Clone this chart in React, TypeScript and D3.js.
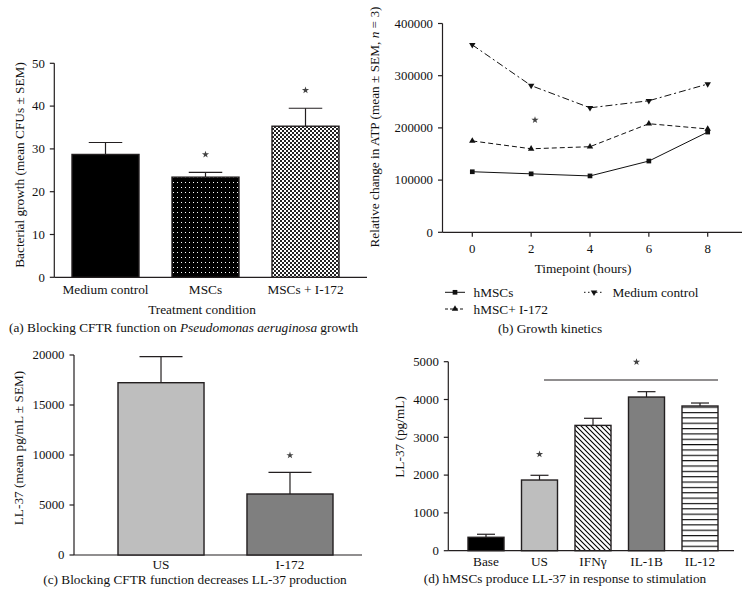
import React from "react";
import * as d3 from "d3";

// ---------- Panel (a) ----------
const aCats = ["Medium control", "MSCs", "MSCs + I-172"];
const aMeans = [28.7, 23.4, 35.3];
const aErrs = [31.5, 24.5, 39.5];
const aStars = [false, true, true];
const aTicks = [0, 10, 20, 30, 40, 50];

// ---------- Panel (b) ----------
const bTimes = [0, 2, 4, 6, 8];
const bHMSC = [116000, 112000, 108000, 136500, 192000];
const bHMSCI172 = [175000, 160000, 164000, 208000, 198000];
const bMedium = [359000, 281000, 238500, 252000, 284000];
const bYTicks = [0, 100000, 200000, 300000, 400000];

// ---------- Panel (c) ----------
const cCats = ["US", "I-172"];
const cMeans = [17230, 6100];
const cErrs = [19830, 8270];
const cYTicks = [0, 5000, 10000, 15000, 20000];

// ---------- Panel (d) ----------
const dCats = ["Base", "US", "IFNγ", "IL-1B", "IL-12"];
const dMeans = [355, 1870, 3315, 4065, 3828];
const dErrs = [435, 1995, 3503, 4207, 3907];
const dYTicks = [0, 1000, 2000, 3000, 4000, 5000];

const FONT = "'Liberation Serif', 'DejaVu Serif', serif";
const AX = "#231f20";
const FS = 13.3;
const TFS = 12.8;

function Star({ x, y }: { x: number; y: number }) {
  const p = d3.symbol().type(d3.symbolStar).size(16)();
  return <path d={p || ""} transform={`translate(${x},${y})`} fill="#444" />;
}

function YAxis({ scale, ticks, x }: { scale: any; ticks: number[]; x: number }) {
  const [r0, r1] = scale.range();
  return (
    <g>
      <line x1={x} x2={x} y1={r0} y2={r1} stroke={AX} strokeWidth={1.2} />
      {ticks.map((t) => (
        <g key={t}>
          <line x1={x - 4.5} x2={x} y1={scale(t)} y2={scale(t)} stroke={AX} strokeWidth={1.2} />
          <text x={x - 9.5} y={scale(t)} dy="0.34em" textAnchor="end" fontSize={TFS} fontFamily={FONT} fill="#111">
            {String(t)}
          </text>
        </g>
      ))}
    </g>
  );
}

function Bars({
  cats, means, errs, x, y, fills,
}: { cats: string[]; means: number[]; errs: number[]; x: any; y: any; fills: string[] }) {
  const bw = x.bandwidth();
  return (
    <g>
      {cats.map((c, i) => {
        const cx = x(c) + bw / 2;
        return (
          <g key={c}>
            <line x1={cx} x2={cx} y1={y(means[i])} y2={y(errs[i])} stroke={AX} strokeWidth={1.2} />
            <line x1={cx - bw / 4} x2={cx + bw / 4} y1={y(errs[i])} y2={y(errs[i])} stroke={AX} strokeWidth={1.2} />
            <rect x={x(c)} y={y(means[i])} width={bw} height={y(0) - y(means[i])} fill={fills[i]} stroke={AX} strokeWidth={1.4} />
          </g>
        );
      })}
    </g>
  );
}

export default function App() {
  // (a)
  const ax = d3.scaleBand<string>().domain(aCats).range([55.5, 355.5]).paddingInner(0.33).paddingOuter(0.165);
  const ay = d3.scaleLinear().domain([0, 50]).range([277.3, 63.3]);
  // (b)
  const bx = d3.scaleLinear().domain([0, 8]).range([472.3, 707.7]);
  const bAxisX0 = 442.5;
  const bAxisX1 = 742;
  const by = d3.scaleLinear().domain([0, 400000]).range([232.3, 23.5]);
  // (c)
  const cx = d3.scaleBand<string>().domain(cCats).range([96.5, 354.5]).paddingInner(0.333).paddingOuter(0.1667);
  const cy = d3.scaleLinear().domain([0, 20000]).range([555, 355]);
  // (d)
  const dx = d3.scaleBand<string>().domain(dCats).range([459.25, 726.75]).paddingInner(0.327).paddingOuter(0.1635);
  const dy = d3.scaleLinear().domain([0, 5000]).range([550.7, 361.7]);

  const line = (vals: number[]) =>
    d3.line<number>().x((_, i) => bx(bTimes[i])).y((v) => by(v))(vals) || "";

  const sq = d3.symbol().type(d3.symbolSquare).size(22)() || "";
  const tri = d3.symbol().type(d3.symbolTriangle).size(18)() || "";

  const series = [
    { name: "hMSCs", vals: bHMSC, dash: "none", legDash: "none", mark: sq, rot: 0 },
    { name: "hMSC+ I-172", vals: bHMSCI172, dash: "5,3", legDash: "3,2", mark: tri, rot: 0 },
    { name: "Medium control", vals: bMedium, dash: "7,3,2,3", legDash: "1.5,2.5", mark: tri, rot: 180 },
  ];

  const aFills = ["#000", "url(#dots)", "url(#checker)"];
  const cFills = ["#bebebe", "#7f7f7f"];
  const dFills = ["#000", "#bebebe", "url(#diag)", "#7f7f7f", "url(#hlines)"];

  return (
    <svg width={746} height={602} style={{ position: "absolute", left: 0, top: 0, background: "#fff" }} fontFamily={FONT}>
      <defs>
        <pattern id="dots" patternUnits="userSpaceOnUse" width={4} height={5}>
          <rect width={4} height={5} fill="#000" />
          <rect x={1} y={2} width={1} height={1} fill="#fff" />
        </pattern>
        <pattern id="checker" patternUnits="userSpaceOnUse" width={4} height={4}>
          <rect width={4} height={4} fill="#fff" />
          <rect x={0} y={0} width={2} height={2} fill="#222" />
          <rect x={2} y={2} width={2} height={2} fill="#222" />
        </pattern>
        <pattern id="diag" patternUnits="userSpaceOnUse" width={5} height={5}>
          <rect width={5} height={5} fill="#fff" />
          <path d="M-1,-1 L6,6 M-1,4 L1,6 M4,-1 L6,1" stroke="#000" strokeWidth={1.1} />
        </pattern>
        <pattern id="hlines" patternUnits="userSpaceOnUse" width={10} height={5.35}>
          <rect width={10} height={5.35} fill="#fff" />
          <line x1={0} x2={10} y1={0.6} y2={0.6} stroke="#000" strokeWidth={1.1} />
        </pattern>
      </defs>

      {/* ---------- Panel (a) ---------- */}
      <YAxis scale={ay} ticks={aTicks} x={54.3} />
      <line x1={54.3} x2={367} y1={ay(0)} y2={ay(0)} stroke={AX} strokeWidth={1.2} />
      <Bars cats={aCats} means={aMeans} errs={aErrs} x={ax} y={ay} fills={aFills} />
      {aCats.map((c, i) => (
        <g key={c}>
          <text x={ax(c)! + ax.bandwidth() / 2} y={294} textAnchor="middle" fontSize={FS} fill="#111">{c}</text>
          {aStars[i] && <Star x={ax(c)! + ax.bandwidth() / 2} y={ay(aErrs[i]) - 18} />}
        </g>
      ))}
      <text x={202} y={314} textAnchor="middle" fontSize={FS} fill="#111">Treatment condition</text>
      <text transform="translate(24,165) rotate(-90)" textAnchor="middle" fontSize={FS} fill="#111">
        Bacterial growth (mean CFUs ± SEM)
      </text>
      <text x={9} y={332} fontSize={FS} fill="#111">
        (a)  Blocking CFTR function on <tspan fontStyle="italic">Pseudomonas aeruginosa</tspan> growth
      </text>

      {/* ---------- Panel (b) ---------- */}
      <YAxis scale={by} ticks={bYTicks} x={bAxisX0} />
      <line x1={bAxisX0} x2={bAxisX1} y1={by(0)} y2={by(0)} stroke={AX} strokeWidth={1.2} />
      {bTimes.map((t) => (
        <g key={t}>
          <line x1={bx(t)} x2={bx(t)} y1={by(0)} y2={by(0) + 4.5} stroke={AX} strokeWidth={1.2} />
          <text x={bx(t)} y={253} textAnchor="middle" fontSize={TFS} fill="#111">{t}</text>
        </g>
      ))}
      {series.map((s) => (
        <g key={s.name}>
          <path d={line(s.vals)} fill="none" stroke="#111" strokeWidth={1} strokeDasharray={s.dash} />
          {s.vals.map((v, i) => (
            <path key={i} d={s.mark} transform={`translate(${bx(bTimes[i])},${by(v)}) rotate(${s.rot})`} fill="#111" />
          ))}
        </g>
      ))}
      <Star x={535} y={120} />
      <text x={583} y={273} textAnchor="middle" fontSize={FS} fill="#111">Timepoint (hours)</text>
      <text transform="translate(379,127) rotate(-90)" textAnchor="middle" fontSize={FS} fill="#111">
        Relative change in ATP (mean ± SEM, <tspan fontStyle="italic">n</tspan> = 3)
      </text>
      {/* legend */}
      {[
        { s: series[0], x: 445, y: 292.3 },
        { s: series[1], x: 445, y: 309 },
        { s: series[2], x: 584, y: 292.3 },
      ].map(({ s, x, y }) => (
        <g key={s.name}>
          <line x1={x} x2={x + 20} y1={y} y2={y} stroke="#111" strokeWidth={1} strokeDasharray={s.legDash} />
          <path d={s.mark} transform={`translate(${x + 10},${y}) rotate(${s.rot})`} fill="#111" />
          <text x={x + 28.5} y={y} dy="0.34em" fontSize={FS} fill="#111">{s.name}</text>
        </g>
      ))}
      <text x={550} y={333} textAnchor="middle" fontSize={FS} fill="#111">(b)  Growth kinetics</text>

      {/* ---------- Panel (c) ---------- */}
      <YAxis scale={cy} ticks={cYTicks} x={74} />
      <line x1={74} x2={362} y1={cy(0)} y2={cy(0)} stroke={AX} strokeWidth={1.2} />
      <Bars cats={cCats} means={cMeans} errs={cErrs} x={cx} y={cy} fills={cFills} />
      {cCats.map((c) => (
        <text key={c} x={cx(c)! + cx.bandwidth() / 2} y={569} textAnchor="middle" fontSize={FS} fill="#111">{c}</text>
      ))}
      <Star x={cx("I-172")! + cx.bandwidth() / 2} y={cy(cErrs[1]) - 17} />
      <text transform="translate(23,448) rotate(-90)" textAnchor="middle" fontSize={FS} fill="#111">
        LL-37 (mean pg/mL ± SEM)
      </text>
      <text x={195} y={584} textAnchor="middle" fontSize={FS} fill="#111">
        (c)  Blocking CFTR function decreases LL-37 production
      </text>

      {/* ---------- Panel (d) ---------- */}
      <YAxis scale={dy} ticks={dYTicks} x={448.3} />
      <line x1={448.3} x2={734} y1={dy(0)} y2={dy(0)} stroke={AX} strokeWidth={1.2} />
      <Bars cats={dCats} means={dMeans} errs={dErrs} x={dx} y={dy} fills={dFills} />
      {dCats.map((c) => (
        <text key={c} x={dx(c)! + dx.bandwidth() / 2} y={566} textAnchor="middle" fontSize={FS} fill="#111">{c}</text>
      ))}
      <Star x={dx("US")! + dx.bandwidth() / 2} y={dy(dErrs[1]) - 21} />
      <line x1={544} x2={718} y1={380} y2={380} stroke={AX} strokeWidth={1.2} />
      <Star x={636.5} y={362} />
      <text transform="translate(404,437) rotate(-90)" textAnchor="middle" fontSize={FS} fill="#111">
        LL-37 (pg/mL)
      </text>
      <text x={565} y={583} textAnchor="middle" fontSize={FS} fill="#111">
        (d)  hMSCs produce LL-37 in response to stimulation
      </text>
    </svg>
  );
}
